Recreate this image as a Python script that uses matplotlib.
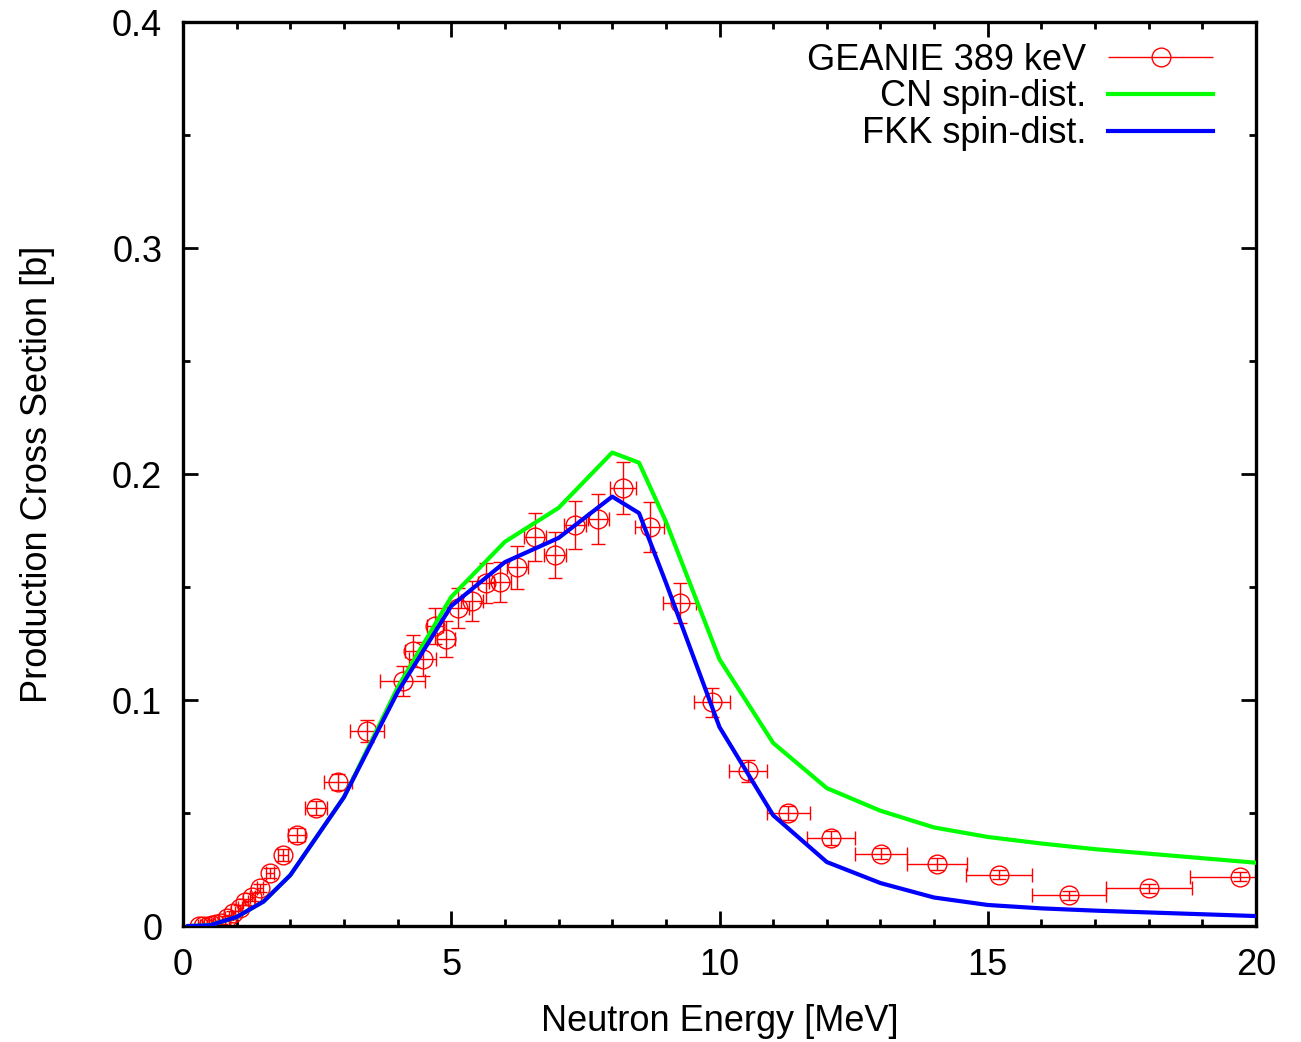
import numpy as np
import matplotlib
matplotlib.use("Agg")
import matplotlib.pyplot as plt
from matplotlib.legend_handler import HandlerErrorbar

plt.rcParams['font.family'] = ['Liberation Sans', 'DejaVu Sans']

# GEANIE data (389 keV gamma)
energy = [0.30, 0.38, 0.46, 0.54, 0.62, 0.70, 0.82, 0.93, 1.06, 1.16, 1.29, 1.44,
          1.62, 1.86, 2.12, 2.48, 2.89, 3.43, 4.10, 4.29, 4.47, 4.70, 4.90, 5.13,
          5.39, 5.65, 5.91, 6.23, 6.56, 6.93, 7.31, 7.74, 8.20, 8.70, 9.26, 9.86,
          10.53, 11.28, 12.08, 13.01, 14.05, 15.21, 16.51, 18.00, 19.70]
xsec = [0.0, 0.0, 0.0, 0.0003, 0.0008, 0.0015, 0.0035, 0.0057, 0.0080, 0.0106, 0.0128, 0.0168,
        0.0235, 0.0314, 0.0403, 0.0522, 0.0637, 0.0863, 0.1085, 0.1217, 0.1180, 0.1327, 0.1270, 0.1407,
        0.1438, 0.1518, 0.1522, 0.1588, 0.1721, 0.1642, 0.1774, 0.1800, 0.1940, 0.1765, 0.1430, 0.0990,
        0.0686, 0.0500, 0.0390, 0.0320, 0.0274, 0.0226, 0.0137, 0.0168, 0.0217]
energy_err = [0.02, 0.02, 0.02, 0.02, 0.03, 0.03, 0.03, 0.04, 0.04, 0.05, 0.05, 0.06,
              0.07, 0.09, 0.16, 0.20, 0.26, 0.32, 0.42, 0.15, 0.25, 0.15, 0.17, 0.20,
              0.20, 0.15, 0.20, 0.20, 0.20, 0.20, 0.20, 0.20, 0.25, 0.27, 0.31, 0.33,
              0.36, 0.40, 0.45, 0.49, 0.56, 0.62, 0.69, 0.80, 0.93]
xsec_err = [0.0005, 0.0005, 0.0005, 0.0005, 0.0005, 0.0006, 0.0008, 0.0010, 0.0012, 0.0015, 0.0017, 0.0019,
            0.0022, 0.0025, 0.0030, 0.0030, 0.0037, 0.0050, 0.0066, 0.0070, 0.0075, 0.0080, 0.0080, 0.0090,
            0.0090, 0.0090, 0.0090, 0.0095, 0.0105, 0.0100, 0.0106, 0.0110, 0.0115, 0.0110, 0.0088, 0.0064,
            0.0048, 0.0033, 0.0030, 0.0025, 0.0025, 0.0020, 0.0020, 0.0020, 0.0020]

# Calculations
calc_energy = [0.1, 0.5, 1.0, 1.5, 2.0, 3.0, 4.0, 5.0, 6.0, 7.0, 8.0, 8.5, 9.0,
               10.0, 11.0, 12.0, 13.0, 14.0, 15.0, 16.0, 17.0, 18.0, 19.0, 20.0]
cn_spin = [0.0, 0.0003, 0.0040, 0.0108, 0.0225, 0.0570, 0.1055, 0.1456, 0.1700, 0.1850, 0.2095, 0.2050, 0.1790,
           0.1180, 0.0810, 0.0610, 0.0510, 0.0436, 0.0394, 0.0365, 0.0340, 0.0320, 0.0300, 0.0280]
fkk_spin = [0.0, 0.0003, 0.0040, 0.0108, 0.0225, 0.0570, 0.1035, 0.1416, 0.1610, 0.1717, 0.1900, 0.1827, 0.1520,
            0.0880, 0.0490, 0.0283, 0.0190, 0.0126, 0.0093, 0.0078, 0.0068, 0.0060, 0.0052, 0.0044]

x_ticks = [0, 5, 10, 15, 20]
y_ticks = [0, 0.1, 0.2, 0.3, 0.4]
y_tick_labels = ["0", "0.1", "0.2", "0.3", "0.4"]

fig = plt.figure(figsize=(13.01, 10.42), dpi=100)
ax = fig.add_axes([183/1301, 1-926/1042, (1256-183)/1301, (926-22)/1042])

red = '#ff0000'
ms = 13.5
ax.errorbar(energy, xsec, xerr=energy_err, yerr=xsec_err, fmt='o', color=red,
            mfc='none', mec=red, ms=ms, mew=1.0, elinewidth=1.0, capsize=5,
            capthick=1.0, zorder=2, clip_on=True)
ax.plot(calc_energy, cn_spin, color='#00ff00', lw=3.0, zorder=3)
ax.plot(calc_energy, fkk_spin, color='#0000ff', lw=3.0, zorder=4)

# legend proxies
proxy = ax.errorbar([], [], xerr=[], fmt='o', color=red, mfc='none', mec=red,
                    ms=ms, mew=1.0, elinewidth=1.0, capsize=6, capthick=1.0)
g_line, = ax.plot([], [], color='#00ff00', lw=3.0)
b_line, = ax.plot([], [], color='#0000ff', lw=3.0)

fs = 26
handlelength = 2.9
leg = ax.legend([proxy, g_line, b_line],
                ['GEANIE 389 keV', 'CN spin-dist.', 'FKK spin-dist.'],
                loc='upper right', bbox_to_anchor=(0.9599, 0.9772),
                frameon=False, markerfirst=False, fontsize=fs,
                handlelength=handlelength, handletextpad=0.6,
                labelspacing=0.05, borderpad=0, borderaxespad=0,
                handler_map={type(proxy): HandlerErrorbar(xerr_size=handlelength/2, numpoints=1)})

ax.set_xlim(0, 20)
ax.set_ylim(0, 0.4)
ax.set_xticks(x_ticks)
ax.set_xticks(np.arange(0, 21, 1), minor=True)
ax.set_yticks(y_ticks)
ax.set_yticklabels(y_tick_labels)
ax.set_yticks(np.arange(0, 0.41, 0.05), minor=True)
ax.tick_params(which='both', direction='in', top=True, right=True, width=2.0,
               labelsize=fs, color='black')
ax.tick_params(which='major', length=11)
ax.tick_params(which='minor', length=5)
ax.tick_params(axis='x', which='major', pad=16)
ax.tick_params(axis='y', which='major', pad=15)
for s in ax.spines.values():
    s.set_linewidth(2.4)

ax.set_xlabel('Neutron Energy [MeV]', fontsize=fs)
ax.set_ylabel('Production Cross Section [b]', fontsize=fs)
ax.xaxis.set_label_coords(0.5, -(1004-926)/904)
ax.yaxis.set_label_coords((55-183)/1073, 0.5)

fig.savefig('out.png', dpi=100)
